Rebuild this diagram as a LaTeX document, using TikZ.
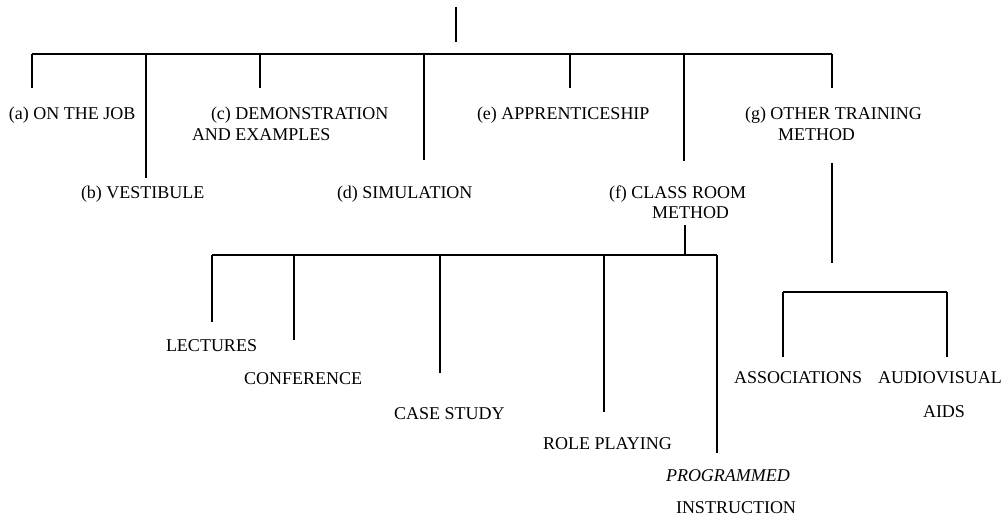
\documentclass[tikz,border=0pt]{standalone}
\usepackage{fontspec}
\setmainfont{Liberation Serif}
\begin{document}
\begin{tikzpicture}[x=1pt,y=-1pt,
  wire/.style={line width=1.2pt,black},
  lbl/.style={anchor=base west,inner sep=0pt,outer sep=0pt,
    font=\fontsize{18}{20}\selectfont}]
\useasboundingbox (0,0) rectangle (1002,519);

% ---- root stub and main bus ----
\coordinate (rootT) at (456,7);
\coordinate (rootB) at (456,42);
\coordinate (busL) at (32,54);
\coordinate (busR) at (832,54);
\draw[wire] (rootT) -- (rootB);
\draw[wire] (busL) -- (busR);

% ---- drop ends of the seven methods ----
\coordinate (da) at (32,88);
\coordinate (db) at (146,178);
\coordinate (dc) at (260,88);
\coordinate (dd) at (424,160);
\coordinate (de) at (570,88);
\coordinate (df) at (684,161);
\coordinate (dg) at (832,88);
\foreach \d in {da,db,dc,dd,de,df,dg}
  \draw[wire] (\d |- busL) -- (\d);

% ---- method labels ----
\node[lbl] (a)  at (9,119.5)   {(a) ON THE JOB};
\node[lbl] (b)  at (81,198)    {(b) VESTIBULE};
\node[lbl] (c1) at (211,119.5) {(c) DEMONSTRATION};
\node[lbl] (c2) at (192,140.5) {AND EXAMPLES};
\node[lbl] (d)  at (337,198)   {(d) SIMULATION};
\node[lbl] (e)  at (477,119.5) {(e) APPRENTICESHIP};
\node[lbl] (f1) at (609,198)   {(f) CLASS ROOM};
\node[lbl] (f2) at (652,218)   {METHOD};
\node[lbl] (g1) at (745,119.5) {(g) OTHER TRAINING};
\node[lbl] (g2) at (778,140.5) {METHOD};

% ---- class room method subtree ----
\coordinate (fT) at (685,225);
\coordinate (fbusL) at (212,255);
\coordinate (fbusR) at (717,255);
\draw[wire] (fT) -- (fT |- fbusL);
\draw[wire] (fbusL) -- (fbusR);
\coordinate (dl1) at (212,322);
\coordinate (dl2) at (294,340);
\coordinate (dl3) at (440,373);
\coordinate (dl4) at (604,412);
\coordinate (dl5) at (717,453);
\foreach \d in {dl1,dl2,dl3,dl4,dl5}
  \draw[wire] (\d |- fbusL) -- (\d);

\node[lbl] (lec)  at (166,351.5) {LECTURES};
\node[lbl] (conf) at (244,384)   {CONFERENCE};
\node[lbl] (cs)   at (394,419)   {CASE STUDY};
\node[lbl] (rp)   at (543,449)   {ROLE PLAYING};
\node[lbl,font=\fontsize{18}{20}\selectfont\itshape] (pi1) at (666,481.5) {PROGRAMMED};
\node[lbl] (pi2)  at (676,513)   {INSTRUCTION};

% ---- other training method subtree ----
\coordinate (gT) at (832,163);
\coordinate (gB) at (832,263);
\coordinate (gbusL) at (783,292);
\coordinate (gbusR) at (947,292);
\draw[wire] (gT) -- (gB);
\draw[wire] (gbusL) -- (gbusR);
\coordinate (dm1) at (783,357);
\coordinate (dm2) at (947,357);
\foreach \d in {dm1,dm2}
  \draw[wire] (\d |- gbusL) -- (\d);

\node[lbl] (as)  at (734,383) {ASSOCIATIONS};
\node[lbl] (av)  at (878,383) {AUDIOVISUAL};
\node[lbl] (aid) at (923,417) {AIDS};
\end{tikzpicture}
\end{document}
